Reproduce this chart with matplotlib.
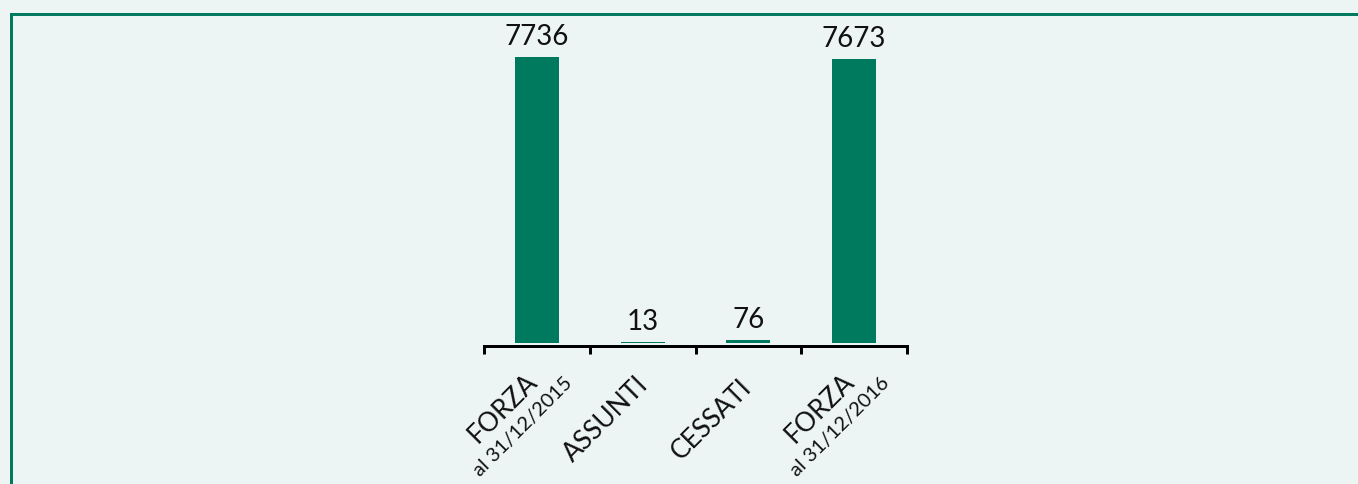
import matplotlib
matplotlib.use("Agg")
import matplotlib.pyplot as plt
from matplotlib.lines import Line2D

# data
categories = ["FORZA", "ASSUNTI", "CESSATI", "FORZA"]
sublabels = ["al 31/12/2015", "", "", "al 31/12/2016"]
values = [7736, 13, 76, 7673]

GREEN = "#007a5e"
BG = "#ecf5f3"
INK = "#111111"
W, H = 1358, 484
PX = 72 / 100.0  # points per pixel at dpi 100

plt.rcParams['font.family'] = ['Lato', 'DejaVu Sans']

fig = plt.figure(figsize=(W / 100, H / 100), dpi=100, facecolor=BG)

# green frame (top + left edge, open at right/bottom like the source crop)
fig.add_artist(Line2D([11 / W, 11 / W, 1.0], [0.0, 1 - 14 / H, 1 - 14 / H],
                      transform=fig.transFigure, color=GREEN, lw=3 * PX,
                      solid_joinstyle="miter"))

left, right = 484 / W, 907 / W
y0, ytop = 342.5, 20.0
ax = fig.add_axes([left, (H - y0) / H, right - left, (y0 - ytop) / H])
ax.set_facecolor("none")

x = list(range(len(values)))
ax.bar(x, values, width=0.415, color=GREEN)
ax.set_xlim(-0.5, len(values) - 0.5)
ax.set_ylim(0, values[0] * (y0 - ytop) / 285.5)

for s in ["left", "right", "top"]:
    ax.spines[s].set_visible(False)
ax.spines["bottom"].set_position(("outward", 2.5))
ax.spines["bottom"].set_linewidth(3 * PX)
ax.set_yticks([])
ax.set_xticks([i - 0.5 for i in range(len(values) + 1)])
ax.set_xticklabels([])
ax.tick_params(axis="x", direction="out", length=8 * PX, width=3 * PX, color="black")

# value labels above bars
for i, v in enumerate(values):
    ax.annotate(str(v), xy=(i, v), xytext=(0, 12 * PX), textcoords="offset points",
                ha="center", va="baseline", fontsize=20, color=INK)

# rotated category labels
for i, (c, s) in enumerate(zip(categories, sublabels)):
    if s:
        ax.annotate(c, xy=(i, 0), xytext=(-34 * PX, -65.5 * PX), textcoords="offset points",
                    ha="center", va="center", rotation=45, rotation_mode="anchor",
                    fontsize=19, color=INK)
        ax.annotate(s, xy=(i, 0), xytext=(-14 * PX, -84 * PX), textcoords="offset points",
                    ha="center", va="center", rotation=45, rotation_mode="anchor",
                    fontsize=14.5, color=INK)
    else:
        ax.annotate(c, xy=(i, 0), xytext=(-37 * PX, -77 * PX), textcoords="offset points",
                    ha="center", va="center", rotation=45, rotation_mode="anchor",
                    fontsize=19, color=INK)

fig.savefig("out.png", dpi=100, facecolor=BG)
